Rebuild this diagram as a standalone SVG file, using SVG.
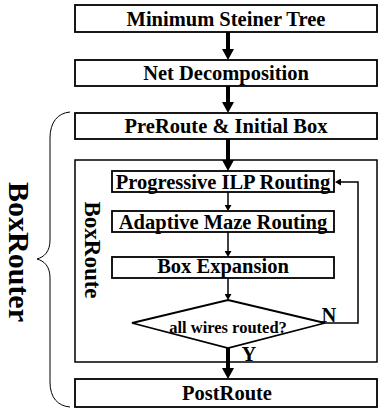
<svg xmlns="http://www.w3.org/2000/svg" width="379" height="414" viewBox="0 0 379 414">
  <style>
    .box { fill: #fff; stroke: #000; stroke-width: 1.8; }
    .frame { fill: none; stroke: #000; stroke-width: 1.5; }
    .lbl { font-family: "Liberation Serif", "Times New Roman", serif; font-weight: bold; font-size: 20.5px; fill: #000; text-anchor: middle; }
    .q { font-size: 16.5px; }
    .title { font-size: 30px; }
    .sub { font-size: 23px; }
    .thick { stroke: #000; stroke-width: 4; fill: none; }
    .thin { stroke: #000; stroke-width: 1.5; fill: none; }
    .brace { stroke: #000; stroke-width: 1; fill: none; }
  </style>
  <defs>
    <marker id="bigHead" markerUnits="userSpaceOnUse" markerWidth="11" markerHeight="12" refX="1" refY="6" orient="auto">
      <path d="M0,0 L11,6 L0,12 Z" fill="#000"/>
    </marker>
    <marker id="smallHead" markerUnits="userSpaceOnUse" markerWidth="6" markerHeight="7" refX="1" refY="3.5" orient="auto">
      <path d="M0,0 L6,3.5 L0,7 Z" fill="#000"/>
    </marker>
  </defs>

  <!-- left brace and overall label -->
  <g id="boxrouter-brace">
    <path class="brace" d="M70,112 C58,113 50,122 50,138 L50,240 C50,252 44,257 37,259 C44,261 50,266 50,278 L50,382 C50,398 58,406 70,407"/>
    <text class="lbl title" transform="translate(9,252) rotate(90)">BoxRouter</text>
  </g>

  <!-- BoxRoute frame -->
  <g id="boxroute">
    <rect class="frame" x="75" y="160" width="302" height="202"/>
    <text class="lbl sub" transform="translate(85,250) rotate(90)">BoxRoute</text>
  </g>

  <g id="n1"><rect class="box" x="75" y="5" width="302" height="27"/><text class="lbl" x="226" y="26">Minimum Steiner Tree</text></g>
  <g id="n2"><rect class="box" x="75" y="60" width="302" height="26"/><text class="lbl" x="226" y="80">Net Decomposition</text></g>
  <g id="n3"><rect class="box" x="75" y="113" width="302" height="26"/><text class="lbl" x="226" y="133">PreRoute &amp; Initial Box</text></g>
  <g id="n4"><rect class="box" x="112" y="171" width="222" height="21"/><text class="lbl" x="223" y="189">Progressive ILP Routing</text></g>
  <g id="n5"><rect class="box" x="112" y="211" width="222" height="21"/><text class="lbl" x="223" y="229">Adaptive Maze Routing</text></g>
  <g id="n6"><rect class="box" x="112" y="257" width="222" height="21"/><text class="lbl" x="223" y="273">Box Expansion</text></g>
  <g id="n7"><polygon class="box" points="228,300 325,323 228,348 132,323"/><text class="lbl q" x="228" y="333">all wires routed?</text></g>
  <g id="n8"><rect class="box" x="75" y="379" width="302" height="28"/><text class="lbl" x="227" y="400">PostRoute</text></g>

  <g id="connectors">
    <line class="thick" x1="228" y1="32" x2="228" y2="50" marker-end="url(#bigHead)"/>
    <line class="thick" x1="228" y1="86" x2="228" y2="103" marker-end="url(#bigHead)"/>
    <line class="thick" x1="228" y1="139" x2="228" y2="161" marker-end="url(#bigHead)"/>
    <line class="thin" x1="228" y1="192" x2="228" y2="206" marker-end="url(#smallHead)"/>
    <line class="thin" x1="228" y1="232" x2="228" y2="252" marker-end="url(#smallHead)"/>
    <line class="thin" x1="228" y1="278" x2="228" y2="295" marker-end="url(#smallHead)"/>
    <line class="thick" x1="228" y1="348" x2="228" y2="369" marker-end="url(#bigHead)"/>
    <polyline class="thin" points="325,323 358,323 358,182 340,182" marker-end="url(#smallHead)"/>
    <text class="lbl" x="329" y="322">N</text>
    <text class="lbl" x="249" y="361">Y</text>
  </g>
</svg>
